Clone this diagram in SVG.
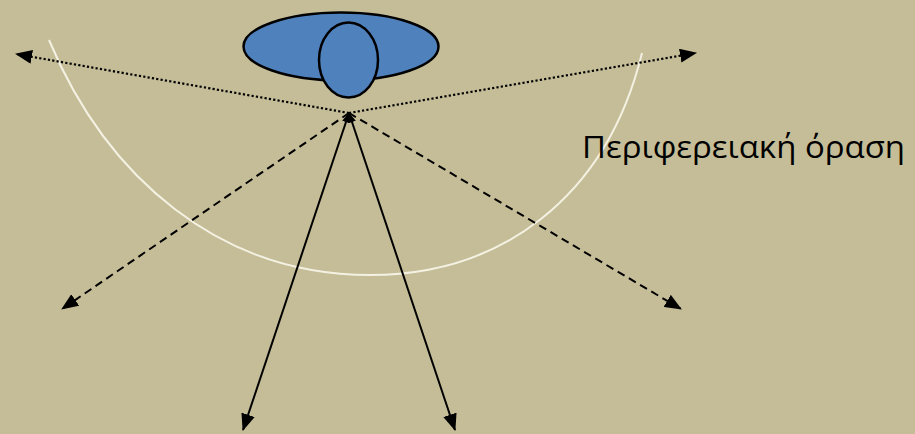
<svg xmlns="http://www.w3.org/2000/svg" width="915" height="434" viewBox="0 0 915 434">
<style>
.dot{stroke:#000;stroke-width:2.2;fill:none;stroke-dasharray:2.2 2.2}
.dash{stroke:#000;stroke-width:2;fill:none;stroke-dasharray:8 5}
.solid{stroke:#000;stroke-width:2;fill:none}
.head{fill:#4F81BD;stroke:#000;stroke-width:2.5}
.lbl{font-family:"Open Sans","Noto Sans","DejaVu Sans",sans-serif;font-size:31px;fill:#000}
</style>
<defs>
<marker id="ah" viewBox="0 0 17 14" refX="16" refY="7" markerWidth="17" markerHeight="14" markerUnits="userSpaceOnUse" orient="auto-start-reverse"><path d="M0,0 L17,7 L0,14 z" fill="#000"/></marker>
<marker id="as" viewBox="0 0 10 8" refX="9.5" refY="4" markerWidth="10" markerHeight="8" markerUnits="userSpaceOnUse" orient="auto-start-reverse"><path d="M0,0 L10,4 L0,8 z" fill="#000"/></marker>
</defs>
<rect width="915" height="434" fill="#C4BD97"/>
<path d="M49,40 C107,178 220,275 370,275 C500,275 606,199 642,53" fill="none" stroke="#F4F1E2" stroke-width="2"/>
<g id="head">
<ellipse class="head" cx="341" cy="46.5" rx="97.5" ry="34"/>
<ellipse class="head" cx="348.5" cy="60" rx="29.5" ry="37.5"/>
</g>
<g id="connectors">
<line class="dot" x1="349" y1="113" x2="16" y2="54" marker-end="url(#ah)"/>
<line class="dot" x1="349" y1="113" x2="696" y2="53" marker-end="url(#ah)"/>
<line class="dash" x1="349" y1="113" x2="62" y2="309" marker-end="url(#ah)"/>
<line class="dash" x1="349" y1="113" x2="681" y2="309" marker-end="url(#ah)"/>
<line class="solid" x1="349" y1="113" x2="243" y2="430" marker-start="url(#as)" marker-end="url(#ah)"/>
<line class="solid" x1="349" y1="113" x2="455" y2="430" marker-start="url(#as)" marker-end="url(#ah)"/>
</g>
<g id="label">
<text class="lbl" x="582" y="158" textLength="323" lengthAdjust="spacingAndGlyphs">Περιφερειακή όραση</text>
</g>
</svg>
